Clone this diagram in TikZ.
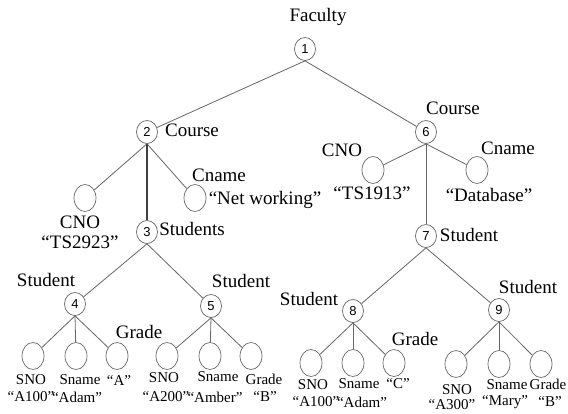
\documentclass[tikz,border=0pt]{standalone}
\usepackage{fontspec}
\setmainfont{Liberation Serif}
\setsansfont{Liberation Sans}
\usetikzlibrary{shapes.geometric}

\tikzset{
  numnode/.style={ellipse, draw=black!60, line width=0.7pt, minimum width=21pt,
    minimum height=23pt, inner sep=0pt, font=\sffamily\fontsize{13}{13}\selectfont},
  leafnode/.style={ellipse, draw=black!60, line width=0.7pt, minimum width=22pt,
    minimum height=27pt, inner sep=0pt},
  biglbl/.style={font=\fontsize{19}{20}\selectfont, inner sep=0pt},
  smalllbl/.style={font=\fontsize{15}{16}\selectfont, inner sep=0pt},
  treeedge/.style={draw=black!60, line width=0.8pt}
}

\begin{document}
\begin{tikzpicture}[x=1pt, y=-1pt]

  % Canvas
  \fill[white] (0,0) rectangle (568,413);
  \useasboundingbox (0,0) rectangle (568,413);

  % Numbered nodes
  \node[numnode] (n1) at (305,49) {1};
  \node[numnode] (n2) at (147,132) {2};
  \node[numnode] (n3) at (147,232) {3};
  \node[numnode] (n4) at (75,304) {4};
  \node[numnode] (n5) at (211,306) {5};
  \node[numnode] (n6) at (426,132) {6};
  \node[numnode] (n7) at (426,236) {7};
  \node[numnode] (n8) at (353,311) {8};
  \node[numnode] (n9) at (499,310) {9};

  % Course leaves
  \node[leafnode] (c2a) at (85,198) {};
  \node[leafnode] (c2b) at (195,198) {};
  \node[leafnode] (c6a) at (373,170) {};
  \node[leafnode] (c6b) at (477,170) {};

  % Student leaves
  \foreach \x [count=\i] in {33,76,117} \node[leafnode] (l4\i) at (\x,356) {};
  \foreach \x [count=\i] in {167,210,251} \node[leafnode] (l5\i) at (\x,356) {};
  \foreach \x [count=\i] in {311,353,394} \node[leafnode] (l8\i) at (\x,363) {};
  \foreach \x [count=\i] in {456,499,541} \node[leafnode] (l9\i) at (\x,364) {};

  % Edges
  \draw[treeedge] (n1.south) -- (n2);
  \draw[treeedge] (n1.south) -- (n6);
  \draw[treeedge] (n2.south) -- (c2a);
  \draw[treeedge] (n2.south) -- (c2b);
  \draw[treeedge, line width=1.2pt, draw=black!75] (n2) -- (n3);
  \draw[treeedge] (n3.south) -- (n4);
  \draw[treeedge] (n3.south) -- (n5);
  \draw[treeedge] (n6.south) -- (c6a);
  \draw[treeedge] (n6.south) -- (c6b);
  \draw[treeedge] (n6) -- (n7);
  \draw[treeedge] (n7.south) -- (n8);
  \draw[treeedge] (n7.south) -- (n9);
  \foreach \p in {4,5,8,9} {
    \foreach \i in {1,2,3} \draw[treeedge] (n\p.south) -- (l\p\i);
  }

  % Upper labels
  \node[biglbl] (tfac) at (318,17) {Faculty};
  \node[biglbl] (tcrs2) at (192,130) {Course};
  \node[biglbl] (tcnm2) at (219,175) {Cname};
  \node[biglbl] (tnet) at (265,200) {``Net working''};
  \node[biglbl] (tcno2) at (80,222) {CNO};
  \node[biglbl] (tts2) at (80,242) {``TS2923''};
  \node[biglbl] (tstds) at (192,229) {Students};
  \node[biglbl] (tst4) at (46,280) {Student};
  \node[biglbl] (tst5) at (241,281) {Student};
  \node[biglbl] (tgr4) at (139,332) {Grade};
  \node[biglbl] (tcrs6) at (453,108) {Course};
  \node[biglbl] (tcno6) at (342,150) {CNO};
  \node[biglbl] (tts6) at (372,193) {``TS1913''};
  \node[biglbl] (tcnm6) at (508,148) {Cname};
  \node[biglbl] (tdb) at (489,195) {``Database''};
  \node[biglbl] (tst7) at (469,235) {Student};
  \node[biglbl] (tst8) at (309,299) {Student};
  \node[biglbl] (tst9) at (528,287) {Student};
  \node[biglbl] (tgr8) at (415,339) {Grade};

  % Lower labels, student 4
  \node[smalllbl] (s4a) at (31,380) {SNO};
  \node[smalllbl] (v4a) at (31,397) {``A100''};
  \node[smalllbl] (s4b) at (80,380) {Sname};
  \node[smalllbl] (v4b) at (77,397) {``Adam''};
  \node[smalllbl] (v4c) at (119,380) {``A''};

  % Lower labels, student 5
  \node[smalllbl] (s5a) at (164,378) {SNO};
  \node[smalllbl] (v5a) at (166,397) {``A200''};
  \node[smalllbl] (s5b) at (218,377) {Sname};
  \node[smalllbl] (v5b) at (215,397) {``Amber''};
  \node[smalllbl] (s5c) at (264,379) {Grade};
  \node[smalllbl] (v5c) at (265,397) {``B''};

  % Lower labels, student 8
  \node[smalllbl] (s8a) at (313,385) {SNO};
  \node[smalllbl] (v8a) at (316,402) {``A100''};
  \node[smalllbl] (s8b) at (359,384) {Sname};
  \node[smalllbl] (v8b) at (362,402) {``Adam''};
  \node[smalllbl] (v8c) at (398,384) {``C''};

  % Lower labels, student 9
  \node[smalllbl] (s9a) at (457,390) {SNO};
  \node[smalllbl] (v9a) at (452,405) {``A300''};
  \node[smalllbl] (s9b) at (507,385) {Sname};
  \node[smalllbl] (v9b) at (505,402) {``Mary''};
  \node[smalllbl] (s9c) at (548,384) {Grade};
  \node[smalllbl] (v9c) at (550,402) {``B''};

\end{tikzpicture}
\end{document}
